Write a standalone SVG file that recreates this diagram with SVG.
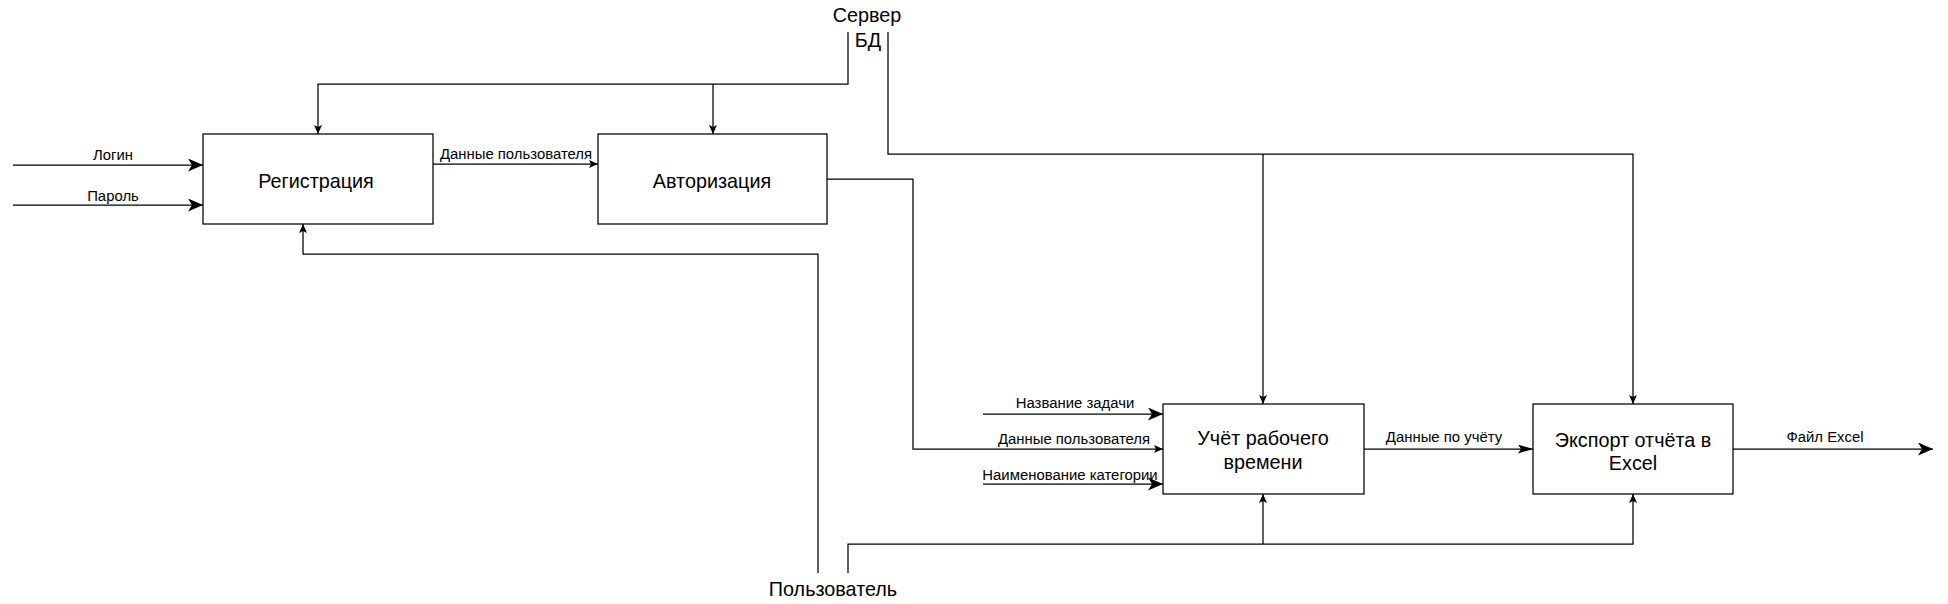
<svg xmlns="http://www.w3.org/2000/svg" width="1948" height="604" viewBox="0 0 1948 604">
<style>
  .box{fill:#fff;stroke:#000;stroke-width:1.25}
  .ln{fill:none;stroke:#000;stroke-width:1.25}
  .t{font-family:"Liberation Sans",Arial,sans-serif;fill:#000;text-anchor:middle}
  .big{font-size:19.8px}
  .sm{font-size:14.9px}
</style>
<defs>
  <marker id="aBig" markerUnits="userSpaceOnUse" markerWidth="16" markerHeight="14" refX="15" refY="6.5" orient="auto">
    <path d="M0,0 L15,6.5 L0,13 L4,6.5 Z" fill="#000"/>
  </marker>
  <marker id="aMed" markerUnits="userSpaceOnUse" markerWidth="16" markerHeight="10" refX="15" refY="4.5" orient="auto">
    <path d="M0,0 L15,4.5 L0,9 L3,4.5 Z" fill="#000"/>
  </marker>
  <marker id="aSm" markerUnits="userSpaceOnUse" markerWidth="10" markerHeight="9" refX="9" refY="4" orient="auto">
    <path d="M0,0 L9,4 L0,8 L2,4 Z" fill="#000"/>
  </marker>
</defs>

<g id="connectors">
  <path class="ln" d="M13,165 H203" marker-end="url(#aBig)"/>
  <path class="ln" d="M13,205 H203" marker-end="url(#aBig)"/>
  <path class="ln" d="M433,164 H598" marker-end="url(#aSm)"/>
  <path class="ln" d="M848,32 V84 H318 V134" marker-end="url(#aSm)"/>
  <path class="ln" d="M713,84 V134" marker-end="url(#aSm)"/>
  <path class="ln" d="M888,32 V154 H1633 V404" marker-end="url(#aSm)"/>
  <path class="ln" d="M1263,154 V404" marker-end="url(#aSm)"/>
  <path class="ln" d="M827,179 H913 V449 H1163" marker-end="url(#aSm)"/>
  <path class="ln" d="M983,414 H1163" marker-end="url(#aBig)"/>
  <path class="ln" d="M983,484 H1163" marker-end="url(#aBig)"/>
  <path class="ln" d="M1364,449 H1533" marker-end="url(#aMed)"/>
  <path class="ln" d="M1733,449 H1933" marker-end="url(#aBig)"/>
  <path class="ln" d="M818,573 V254 H303 V224" marker-end="url(#aSm)"/>
  <path class="ln" d="M848,573 V544 H1633 V494" marker-end="url(#aSm)"/>
  <path class="ln" d="M1263,544 V494" marker-end="url(#aSm)"/>
  <text class="t sm" x="113" y="160">Логин</text>
  <text class="t sm" x="113" y="201">Пароль</text>
  <text class="t sm" x="516" y="159">Данные пользователя</text>
  <text class="t sm" x="1075" y="408">Название задачи</text>
  <text class="t sm" x="1074" y="444">Данные пользователя</text>
  <text class="t sm" x="1070" y="480">Наименование категории</text>
  <text class="t sm" x="1444" y="442">Данные по учёту</text>
  <text class="t sm" x="1825" y="442">Файл Excel</text>
</g>

<g id="server">
  <text class="t big" x="867" y="22">Сервер</text>
  <text class="t big" x="868" y="47">БД</text>
</g>
<g id="user">
  <text class="t big" x="833" y="596">Пользователь</text>
</g>

<g id="registration">
  <rect class="box" x="203" y="134" width="230" height="90"/>
  <text class="t big" x="316" y="188">Регистрация</text>
</g>
<g id="authorization">
  <rect class="box" x="598" y="134" width="229" height="90"/>
  <text class="t big" x="712" y="188">Авторизация</text>
</g>
<g id="timetracking">
  <rect class="box" x="1163" y="404" width="201" height="90"/>
  <text class="t big" x="1263" y="445">Учёт рабочего</text>
  <text class="t big" x="1263" y="469">времени</text>
</g>
<g id="export">
  <rect class="box" x="1533" y="404" width="200" height="90"/>
  <text class="t big" x="1633" y="447">Экспорт отчёта в</text>
  <text class="t big" x="1633" y="470">Excel</text>
</g>
</svg>
